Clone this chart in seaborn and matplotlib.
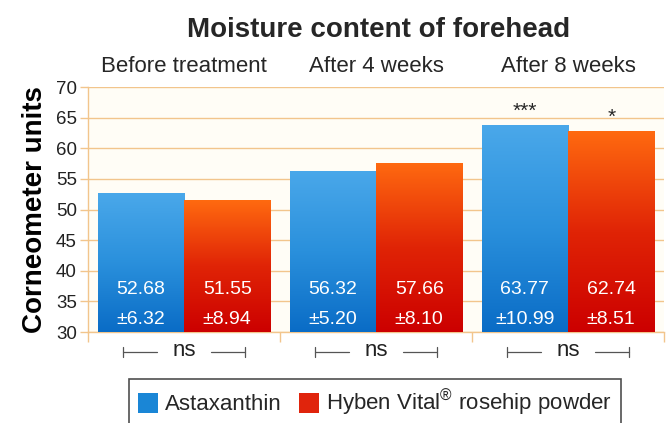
import numpy as np
import pandas as pd
import seaborn as sns
import matplotlib.pyplot as plt
from matplotlib.patches import Patch
from matplotlib.colors import LinearSegmentedColormap

# data
periods = ['Before treatment', 'After 4 weeks', 'After 8 weeks']
products = ['Astaxanthin', 'Hyben Vital$^{®}$ rosehip powder']
astaxanthin_mean = [52.68, 56.32, 63.77]
astaxanthin_sd = [6.32, 5.20, 10.99]
rosehip_mean = [51.55, 57.66, 62.74]
rosehip_sd = [8.94, 8.10, 8.51]
astaxanthin_stars = ['', '', '***']
rosehip_stars = ['', '', '*']
group_sig = ['ns', 'ns', 'ns']

df = pd.DataFrame({
    'period': periods * 2,
    'product': [products[0]] * 3 + [products[1]] * 3,
    'value': astaxanthin_mean + rosehip_mean,
})

sns.set_theme(style='white')
plt.rcParams['font.family'] = ['Liberation Sans', 'DejaVu Sans']
plt.rcParams['mathtext.fontset'] = 'custom'
plt.rcParams['mathtext.rm'] = 'Liberation Sans'
plt.rcParams['mathtext.it'] = 'Liberation Sans'
plt.rcParams['mathtext.default'] = 'regular'

blue = '#1a86d6'
red = '#e0240c'
grid_col = '#f2c58c'
# bottom -> top shading like the original 3d-ish bars
blue_cmap = LinearSegmentedColormap.from_list('b', ['#0a6cc6', '#2a90dc', '#4aa8ea'])
red_cmap = LinearSegmentedColormap.from_list('r', ['#cc0000', '#e02406', '#ff6a10'])

fig = plt.figure(figsize=(6.66, 4.23), dpi=100)
ax = fig.add_axes([88 / 666, 1 - 332 / 423, 576 / 666, 245 / 423])
ax.set_facecolor('#fffdf6')

sns.barplot(data=df, x='period', y='value', hue='product', order=periods,
            hue_order=products, palette=[blue, red], width=0.9, gap=0,
            saturation=1, ax=ax, legend=False, zorder=3)

# gradient fill clipped to each bar
grad = np.linspace(0, 1, 256).reshape(-1, 1)
for k, p in enumerate(ax.patches):
    cmap = blue_cmap if k < 3 else red_cmap
    x0, w, h = p.get_x(), p.get_width(), p.get_height()
    im = ax.imshow(grad, cmap=cmap, origin='lower', aspect='auto',
                   extent=[x0, x0 + w, 30, h], zorder=3.5, interpolation='bilinear')
    im.set_clip_path(p)
    p.set_facecolor('none')
    p.set_edgecolor('none')
ax.set_xlim(-0.5, 2.5)
ax.set_ylim(30, 70)
ax.set_aspect('auto')

ax.set_yticks(range(30, 71, 5))
ax.yaxis.grid(True, color=grid_col, lw=1, zorder=0)
ax.set_axisbelow(True)
ax.set_xticks([-0.5, 0.5, 1.5, 2.5])
ax.set_xticklabels([])
ax.tick_params(axis='x', length=7, color=grid_col, width=1, direction='out', bottom=True)
ax.tick_params(axis='y', length=6, color=grid_col, width=1, direction='out', left=True,
               labelsize=13.5, labelcolor='#222222', pad=2)
for s in ['top', 'right']:
    ax.spines[s].set_visible(False)
for s in ['left', 'bottom']:
    ax.spines[s].set_color(grid_col)
    ax.spines[s].set_linewidth(1)
ax.set_xlabel('')
ax.set_ylabel('Corneometer units', fontsize=20, fontweight='bold', color='black', labelpad=6)

# value labels inside bars
off = 0.225
for i in range(3):
    for dx, m, sd in [(-off, astaxanthin_mean[i], astaxanthin_sd[i]),
                      (off, rosehip_mean[i], rosehip_sd[i])]:
        ax.text(i + dx, 37.0, f'{m:.2f}', ha='center', va='center', color='white', fontsize=14, zorder=5)
        ax.text(i + dx, 32.1, f'±{sd:.2f}', ha='center', va='center', color='white', fontsize=14, zorder=5)
    ax.text(i, 73.3, periods[i], ha='center', va='center', fontsize=16, clip_on=False)
    if astaxanthin_stars[i]:
        ax.text(i - off, astaxanthin_mean[i] + 0.7, astaxanthin_stars[i], ha='center', va='bottom', fontsize=15)
    if rosehip_stars[i]:
        ax.text(i + off, rosehip_mean[i] + 0.7, rosehip_stars[i], ha='center', va='bottom', fontsize=15)

# ns brackets below the axis
tr = ax.get_xaxis_transform()
by = -0.082
for i in range(3):
    ax.plot([i - 0.32, i - 0.14], [by, by], color='#555555', lw=0.9, transform=tr, clip_on=False)
    ax.plot([i + 0.14, i + 0.32], [by, by], color='#555555', lw=0.9, transform=tr, clip_on=False)
    for e in (i - 0.32, i + 0.32):
        ax.plot([e, e], [by - 0.02, by + 0.02], color='#555555', lw=0.9, transform=tr, clip_on=False)
    ax.text(i, by + 0.005, group_sig[i], ha='center', va='center', fontsize=16, transform=tr, color='#222222')

fig.text(0.569, 1 - 30 / 423, 'Moisture content of forehead', ha='center', va='center',
         fontsize=20, fontweight='bold')

handles = [Patch(facecolor=blue, edgecolor='none'), Patch(facecolor=red, edgecolor='none')]
leg = fig.legend(handles, products, loc='upper center', bbox_to_anchor=(0.563, 1 - 379 / 423),
                 ncol=2, frameon=True, fontsize=16, handlelength=0.9, handleheight=1.0,
                 handletextpad=0.3, columnspacing=0.8, fancybox=False, borderpad=0.4,
                 borderaxespad=0)
leg.get_frame().set_edgecolor('#222222')
leg.get_frame().set_linewidth(1.2)

fig.savefig('out.png', dpi=100)
